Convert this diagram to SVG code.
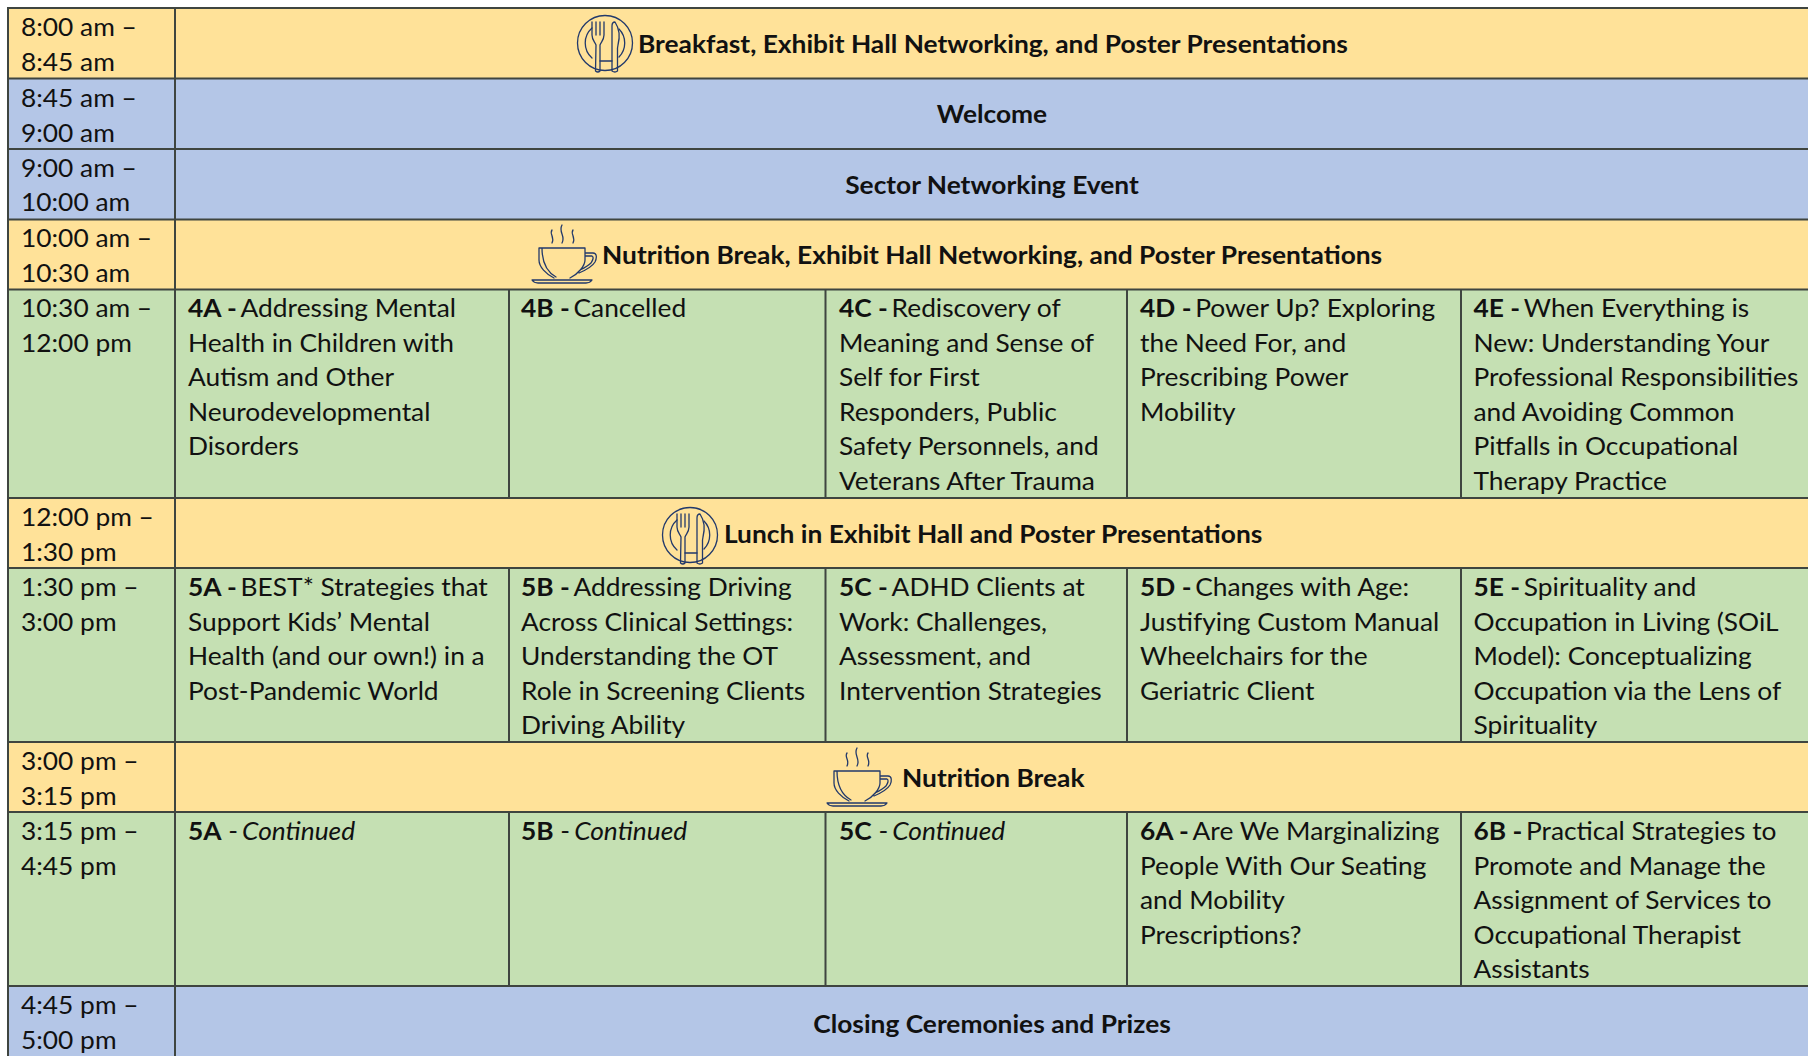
<svg xmlns="http://www.w3.org/2000/svg" width="1808" height="1056" viewBox="0 0 1808 1056">
<style>
.y{fill:#FFE299}.b{fill:#B4C6E7}.g{fill:#C5E0B3}
.gl{stroke:#3f4540;stroke-width:2;fill:none}
text{font-family:"Lato","Carlito","Liberation Sans",sans-serif;font-size:24.5px;fill:#111}
.c{font-weight:700;text-anchor:middle}
.h{font-weight:700}
.i{font-style:italic}
.ic{fill:none;stroke:#22396b;stroke-width:1.3;stroke-linejoin:round;stroke-linecap:round}
</style>
<defs>
<g id="plate" class="ic">
<circle r="27.500"/>
<path d="M-13 -15A20 20 0 0 0 -13 15M14 -14A20 20 0 0 1 14 14M-5 18H7"/>
<path d="M-13 -21V-8C-13 -3 -10 -1 -9 2L-9.500 28Q-7 30 -5 28L-5 2C-4 -1 -1 -3 -1 -8V-21M-9 -21V-8M-5 -21V-8"/>
<path d="M10 -21C14 -15 15 -6 13 2L12.500 5V28Q10 30 7 28V-17Q7 -21 10 -21Z"/>
</g>
<g id="cup" class="ic">
<path d="M7 0H53M7 0V12C7 19 14 26 22 30M10 0C10 14 15 24 24 29M53 0V12C53 18 46 26 38 30M53 5H61C65 5 65 10 63 14C60 19 54 22 47 25M53 8H60C62 9 61 12 59 15C56 18 52 20 48 22"/>
<path d="M0 32H60Q58 35 54 35H6Q2 35 0 32Z"/>
<path d="M20 -18C17 -14 23 -11 20 -5M30 -23C26 -16 34 -12 30 -5M41 -18C38 -14 44 -11 41 -5"/>
</g>
</defs>
<g id="fills">
<rect class="y" x="8" y="8" width="1800" height="70.500"/>
<rect class="b" x="8" y="78.500" width="1800" height="141"/>
<rect class="y" x="8" y="219.500" width="1800" height="70"/>
<rect class="g" x="8" y="289.500" width="1800" height="208.500"/>
<rect class="y" x="8" y="498" width="1800" height="70"/>
<rect class="g" x="8" y="568" width="1800" height="174"/>
<rect class="y" x="8" y="742" width="1800" height="70"/>
<rect class="g" x="8" y="812" width="1800" height="174"/>
<rect class="b" x="8" y="986" width="1800" height="70"/>
</g>
<g id="connectors">
<path class="gl" d="M8 8H1808M8 78.500H1808M8 149H1808M8 219.500H1808M8 289.500H1808M8 498H1808M8 568H1808M8 742H1808M8 812H1808M8 986H1808M8 7V1056M175 7V1056"/>
<path class="gl" d="M509 289.500V498M825.500 289.500V498M1127 289.500V498M1461 289.500V498M509 568V742M825.500 568V742M1127 568V742M1461 568V742M509 812V986M825.500 812V986M1127 812V986M1461 812V986"/>
</g>
<g id="times" transform="translate(21 1) scale(1.075 1)">
<text y="35">8:00 am –</text><text y="70">8:45 am</text>
<text y="106">8:45 am –</text><text y="141">9:00 am</text>
<text y="176">9:00 am –</text><text y="210">10:00 am</text>
<text y="246">10:00 am –</text><text y="281">10:30 am</text>
<text y="316">10:30 am –</text><text y="351">12:00 pm</text>
<text y="525">12:00 pm –</text><text y="560">1:30 pm</text>
<text y="595">1:30 pm –</text><text y="630">3:00 pm</text>
<text y="769">3:00 pm –</text><text y="804">3:15 pm</text>
<text y="839">3:15 pm –</text><text y="874">4:45 pm</text>
<text y="1013">4:45 pm –</text><text y="1048">5:00 pm</text>
</g>
<g id="banner-breakfast"><use href="#plate" x="605" y="43"/><text transform="translate(638 53) scale(1.075 1)" class="h">Breakfast, Exhibit Hall Networking, and Poster Presentations</text></g>
<g id="banner-welcome"><text transform="translate(992 123) scale(1.075 1)" class="c">Welcome</text></g>
<g id="banner-sector"><text transform="translate(992 194) scale(1.075 1)" class="c">Sector Networking Event</text></g>
<g id="banner-nutrition1"><use href="#cup" x="532" y="248"/><text transform="translate(602 264) scale(1.075 1)" class="h">Nutrition Break, Exhibit Hall Networking, and Poster Presentations</text></g>
<g id="banner-lunch"><use href="#plate" x="690" y="535"/><text transform="translate(724 543) scale(1.075 1)" class="h">Lunch in Exhibit Hall and Poster Presentations</text></g>
<g id="banner-nutrition2"><use href="#cup" x="827" y="771"/><text transform="translate(902 787) scale(1.075 1)" class="h">Nutrition Break</text></g>
<g id="banner-closing"><text transform="translate(992 1033) scale(1.075 1)" class="c">Closing Ceremonies and Prizes</text></g>
<g id="s4A" transform="translate(188 1) scale(1.075 1)"><text y="316"><tspan class="h">4A - </tspan><tspan dx="-2.500">Addressing Mental</tspan></text><text y="351">Health in Children with</text><text y="385">Autism and Other</text><text y="420">Neurodevelopmental</text><text y="454">Disorders</text></g>
<g id="s4B" transform="translate(521 1) scale(1.075 1)"><text y="316"><tspan class="h">4B - </tspan><tspan dx="-2.500">Cancelled</tspan></text></g>
<g id="s4C" transform="translate(839 1) scale(1.075 1)"><text y="316"><tspan class="h">4C - </tspan><tspan dx="-2.500">Rediscovery of</tspan></text><text y="351">Meaning and Sense of</text><text y="385">Self for First</text><text y="420">Responders, Public</text><text y="454">Safety Personnels, and</text><text y="489">Veterans After Trauma</text></g>
<g id="s4D" transform="translate(1140 1) scale(1.075 1)"><text y="316"><tspan class="h">4D - </tspan><tspan dx="-2.500">Power Up? Exploring</tspan></text><text y="351">the Need For, and</text><text y="385">Prescribing Power</text><text y="420">Mobility</text></g>
<g id="s4E" transform="translate(1473.500 1) scale(1.075 1)"><text y="316"><tspan class="h">4E - </tspan><tspan dx="-2.500">When Everything is</tspan></text><text y="351">New: Understanding Your</text><text y="385">Professional Responsibilities</text><text y="420">and Avoiding Common</text><text y="454">Pitfalls in Occupational</text><text y="489">Therapy Practice</text></g>
<g id="s5A" transform="translate(188 1) scale(1.075 1)"><text y="595"><tspan class="h">5A - </tspan><tspan dx="-2.500">BEST* Strategies that</tspan></text><text y="630">Support Kids’ Mental</text><text y="664">Health (and our own!) in a</text><text y="699">Post-Pandemic World</text></g>
<g id="s5B" transform="translate(521 1) scale(1.075 1)"><text y="595"><tspan class="h">5B - </tspan><tspan dx="-2.500">Addressing Driving</tspan></text><text y="630">Across Clinical Settings:</text><text y="664">Understanding the OT</text><text y="699">Role in Screening Clients</text><text y="733">Driving Ability</text></g>
<g id="s5C" transform="translate(839 1) scale(1.075 1)"><text y="595"><tspan class="h">5C - </tspan><tspan dx="-2.500">ADHD Clients at</tspan></text><text y="630">Work: Challenges,</text><text y="664">Assessment, and</text><text y="699">Intervention Strategies</text></g>
<g id="s5D" transform="translate(1140 1) scale(1.075 1)"><text y="595"><tspan class="h">5D - </tspan><tspan dx="-2.500">Changes with Age:</tspan></text><text y="630">Justifying Custom Manual</text><text y="664">Wheelchairs for the</text><text y="699">Geriatric Client</text></g>
<g id="s5E" transform="translate(1473.500 1) scale(1.075 1)"><text y="595"><tspan class="h">5E - </tspan><tspan dx="-2.500">Spirituality and</tspan></text><text y="630">Occupation in Living (SOiL</text><text y="664">Model): Conceptualizing</text><text y="699">Occupation via the Lens of</text><text y="733">Spirituality</text></g>
<g id="s5Ac" transform="translate(188 1) scale(1.075 1)"><text y="839"><tspan class="h">5A</tspan> - <tspan class="i" dx="-2.500">Continued</tspan></text></g>
<g id="s5Bc" transform="translate(521 1) scale(1.075 1)"><text y="839"><tspan class="h">5B</tspan> - <tspan class="i" dx="-2.500">Continued</tspan></text></g>
<g id="s5Cc" transform="translate(839 1) scale(1.075 1)"><text y="839"><tspan class="h">5C</tspan> - <tspan class="i" dx="-2.500">Continued</tspan></text></g>
<g id="s6A" transform="translate(1140 1) scale(1.075 1)"><text y="839"><tspan class="h">6A - </tspan><tspan dx="-2.500">Are We Marginalizing</tspan></text><text y="874">People With Our Seating</text><text y="908">and Mobility</text><text y="943">Prescriptions?</text></g>
<g id="s6B" transform="translate(1473.500 1) scale(1.075 1)"><text y="839"><tspan class="h">6B - </tspan><tspan dx="-2.500">Practical Strategies to</tspan></text><text y="874">Promote and Manage the</text><text y="908">Assignment of Services to</text><text y="943">Occupational Therapist</text><text y="977">Assistants</text></g>
</svg>
